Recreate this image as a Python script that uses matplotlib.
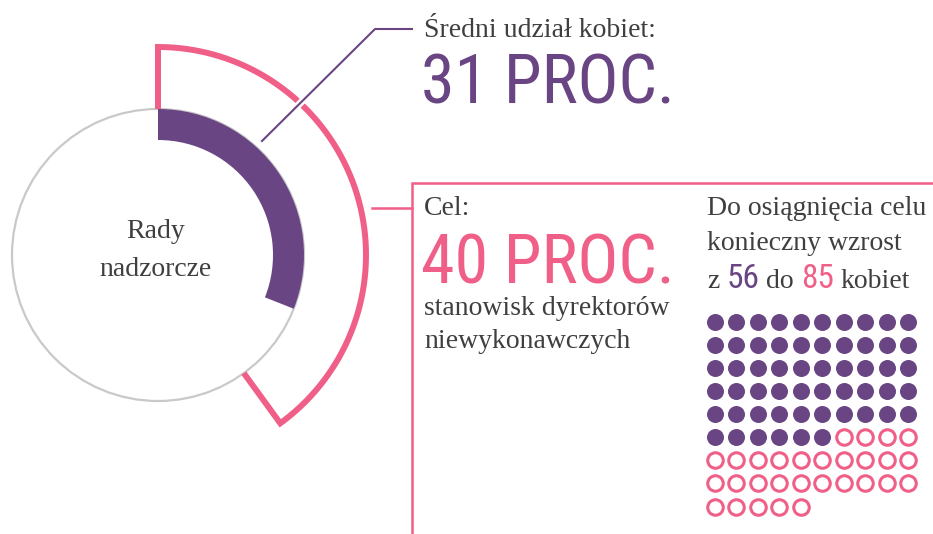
import numpy as np
import matplotlib
matplotlib.use("Agg")
import matplotlib.pyplot as plt
from matplotlib.patches import Wedge, Circle
import matplotlib.patheffects as pe
from matplotlib import font_manager

# ---- data ----
avg_share = 31          # % women now
target_share = 40       # % target
women_now = 56
women_target = 85
center_label = ["Rady", "nadzorcze"]
avg_label = "Średni udział kobiet:"
target_label = "Cel:"
target_desc = ["stanowisk dyrektorów", "niewykonawczych"]
need_lines = ["Do osiągnięcia celu", "konieczny wzrost"]

PURPLE = "#6a4584"
PINK = "#f05f87"
GRAY_TXT = "#3f3f3f"
GRAY_RING = "#c9c9c9"

avail = {f.name for f in font_manager.fontManager.ttflist}
COND = next((f for f in ["Roboto Condensed", "Liberation Sans Narrow", "Open Sans Condensed",
                         "DejaVu Sans Condensed", "Liberation Sans"] if f in avail), "DejaVu Sans")
SERIF = "Liberation Serif" if "Liberation Serif" in avail else "DejaVu Serif"
FS = 20

W, H = 933, 534
fig = plt.figure(figsize=(W / 100, H / 100), dpi=100)
ax = fig.add_axes([0, 0, 1, 1])
ax.set_xlim(0, W)
ax.set_ylim(H, 0)
ax.set_aspect("equal")
ax.axis("off")

cx, cy = 158, 255
r_ring = 146
r_pink = 208

# gray ring
ax.add_patch(Circle((cx, cy), r_ring, fill=False, ec=GRAY_RING, lw=1.6, zorder=1))
# purple share arc
ax.add_patch(Wedge((cx, cy), r_ring, -90, -90 + 360 * avg_share / 100, width=31,
                   fc=PURPLE, ec="none", zorder=2))
# pink target outline
t = np.linspace(-90, -90 + 360 * target_share / 100, 300)
end = np.deg2rad(t[-1])
xs = [cx] + list(cx + r_pink * np.cos(np.deg2rad(t))) + [cx + r_ring * np.cos(end)]
ys = [cy - r_ring] + list(cy + r_pink * np.sin(np.deg2rad(t))) + [cy + r_ring * np.sin(end)]
ax.plot(xs, ys, color=PINK, lw=4.3, solid_joinstyle="miter", solid_capstyle="butt", zorder=3)

# leader lines
ax.plot([262, 375, 412], [141, 29, 29], color=PURPLE, lw=1.5, zorder=4,
        path_effects=[pe.Stroke(linewidth=5, foreground="white"), pe.Normal()])
ax.plot([372, 412], [208, 208], color=PINK, lw=1.8, zorder=4)
ax.plot([412, 412, W], [H, 183, 183], color=PINK, lw=1.8, zorder=4,
        solid_joinstyle="miter")

# center label
ax.text(156, 238, center_label[0], family=SERIF, fontsize=FS, color=GRAY_TXT,
        ha="center", va="baseline")
ax.text(156, 276, center_label[1], family=SERIF, fontsize=FS, color=GRAY_TXT,
        ha="center", va="baseline")

# average block
ax.text(424, 37, avg_label, family=SERIF, fontsize=FS, color=GRAY_TXT, va="baseline")
ax.text(421, 103, f"{avg_share} PROC.", family=COND, fontsize=49, color=PURPLE, va="baseline")

# target block
ax.text(424, 215, target_label, family=SERIF, fontsize=FS, color=GRAY_TXT, va="baseline")
ax.text(421, 283, f"{target_share} PROC.", family=COND, fontsize=49, color=PINK, va="baseline")
ax.text(424, 315, target_desc[0], family=SERIF, fontsize=FS, color=GRAY_TXT, va="baseline")
ax.text(424, 348, target_desc[1], family=SERIF, fontsize=FS, color=GRAY_TXT, va="baseline")

# need block
ax.text(707, 215, need_lines[0], family=SERIF, fontsize=FS, color=GRAY_TXT, va="baseline")
ax.text(707, 250, need_lines[1], family=SERIF, fontsize=FS, color=GRAY_TXT, va="baseline")

fig.canvas.draw()
renderer = fig.canvas.get_renderer()
x = 707
pieces = [("z", SERIF, FS, GRAY_TXT), (str(women_now), COND, 24, PURPLE),
          ("do", SERIF, FS, GRAY_TXT), (str(women_target), COND, 24, PINK),
          ("kobiet", SERIF, FS, GRAY_TXT)]
for s, fam, size, c in pieces:
    tt = ax.text(x, 288, s, family=fam, fontsize=size, color=c, va="baseline")
    bb = tt.get_window_extent(renderer)
    x += bb.width + 7

# dot grid
ncol = 10
idx = np.arange(women_target)
col = idx % ncol
row = idx // ncol
dx = 715 + col * 21.45
dy = 321.7 + row * 23.1
filled = idx < women_now
ax.scatter(dx[filled], dy[filled], s=(17 * 0.72) ** 2, color=PURPLE, lw=0, zorder=5)
ax.scatter(dx[~filled], dy[~filled], s=(15.5 * 0.72) ** 2, facecolor="white",
           edgecolor=PINK, lw=2.2, zorder=5)

fig.savefig("out.png", dpi=100)
